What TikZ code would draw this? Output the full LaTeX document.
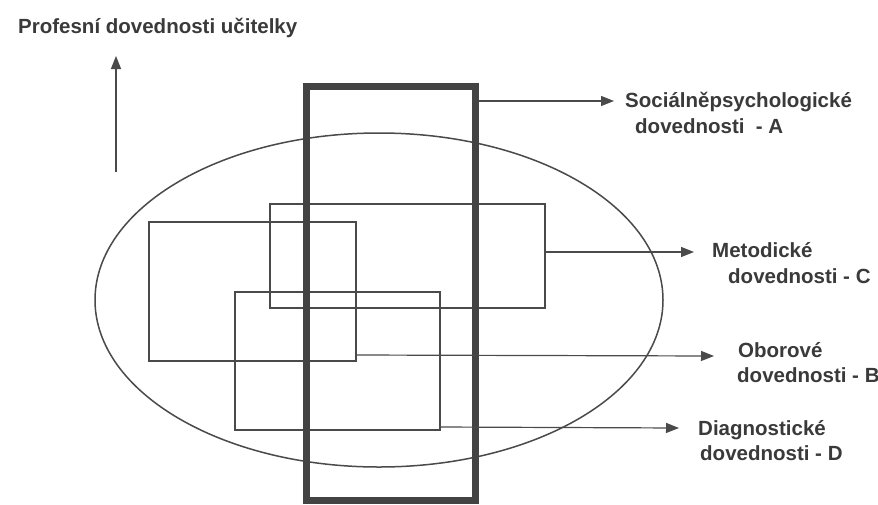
\documentclass[tikz,border=0pt]{standalone}
\usepackage{fontspec}
\setmainfont{Liberation Sans}
\usetikzlibrary{arrows.meta}
\definecolor{ink}{HTML}{4A4A4A}
\definecolor{txt}{HTML}{3A3A3A}
\tikzset{
  thinbox/.style={draw=ink,line width=1.6pt},
  thickbox/.style={draw=ink!90!black,line width=7pt},
  oval/.style={draw=ink,line width=1.5pt},
  pointer/.style={draw=ink,line width=1.2pt,-{Triangle[length=13pt,width=10pt]}},
  lbl/.style={anchor=base west,inner sep=0pt,text=txt,font=\bfseries\fontsize{20.5}{24}\selectfont}
}
\begin{document}
\begin{tikzpicture}[x=1pt,y=-1pt]
\useasboundingbox (0,0) rectangle (878,504);
\fill[white] (0,0) rectangle (878,504);
% title and upward arrow
\node[lbl] (title) at (18,33) {Profesní dovednosti učitelky};
\coordinate (upS) at (116,172);
\coordinate (upE) at (116,56);
\draw[pointer] (upS) -- (upE);
% ellipse
\draw[oval] (379,300) ellipse [x radius=284, y radius=167];
% rectangles
\node[thinbox,minimum width=207pt,minimum height=139pt,inner sep=0pt] (rB) at (252.5,291.5) {};
\node[thinbox,minimum width=275pt,minimum height=104pt,inner sep=0pt] (rC) at (407.5,256) {};
\node[thinbox,minimum width=205pt,minimum height=138pt,inner sep=0pt] (rD) at (337.5,361) {};
\node[thickbox,minimum width=169pt,minimum height=414pt,inner sep=0pt] (rA) at (390.5,293) {};
% labels
\node[lbl] (a1) at (625,107) {Sociálněpsychologické};
\node[lbl] (a2) at (635,133) {dovednosti\ \ - A};
\node[lbl] (c1) at (712,257) {Metodické};
\node[lbl] (c2) at (728,283) {dovednosti - C};
\node[lbl] (b1) at (738,357) {Oborové};
\node[lbl] (b2) at (737,382) {dovednosti - B};
\node[lbl] (d1) at (698,435) {Diagnostické};
\node[lbl] (d2) at (700,460) {dovednosti - D};
% pointers
\coordinate (aS) at (479,101);
\coordinate (aE) at (614,101);
\coordinate (cS) at (545,252);
\coordinate (cE) at (694,252);
\coordinate (bS) at (356,355);
\coordinate (bE) at (714,356);
\coordinate (dS) at (440,427);
\coordinate (dE) at (679,428);
\draw[pointer] (aS) -- (aE);
\draw[pointer] (cS) -- (cE);
\draw[pointer] (bS) -- (bE);
\draw[pointer] (dS) -- (dE);
\end{tikzpicture}
\end{document}
